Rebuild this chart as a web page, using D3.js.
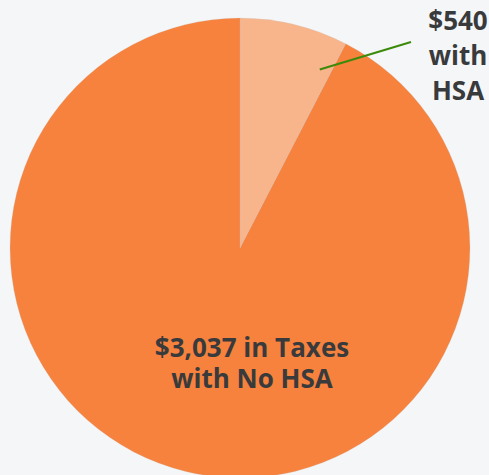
<!DOCTYPE html>
<html lang="en">
<head>
    <meta charset="UTF-8">
    <title>Taxes with and without HSA</title>
    <script src="https://d3js.org/d3.v7.min.js"></script>
    <style>
        body {
            margin: 0;
            background-color: #f4f6f8;
            font-family: 'Open Sans', sans-serif;
        }
        .label {
            font-size: 26px;
            font-weight: bold;
            fill: #393a3c;
        }
    </style>
</head>
<body>
    <svg id="chart"></svg>

    <script>
        // slices (share of the full circle, in %)
        const categories = ["with HSA", "with No HSA"];
        const shares = [7.6, 92.4];
        const labels = [["$540", "with", "HSA"], ["$3,037 in Taxes", "with No HSA"]];
        const colors = ["#f8b48b", "#f6823e"];

        const width = 489, height = 475;
        const cx = 240, cy = 248, radius = 230;

        const svg = d3.select("#chart")
            .attr("width", width)
            .attr("height", height);

        const g = svg.append("g")
            .attr("transform", `translate(${cx},${cy})`);

        const pie = d3.pie().sort(null).value(d => d);
        const arc = d3.arc().innerRadius(0).outerRadius(radius);
        const arcs = pie(shares);

        g.selectAll("path")
            .data(arcs)
            .enter().append("path")
            .attr("d", arc)
            .attr("fill", (d, i) => colors[i])
            .attr("stroke", "#c9c9c9")
            .attr("stroke-opacity", 0.4)
            .attr("stroke-width", 0.6);

        // leader line for the small slice, starting inside it near its edge
        const a0 = arcs[0].endAngle * 0.88;
        const r0 = radius * 0.85;
        svg.append("line")
            .attr("x1", cx + r0 * Math.sin(a0))
            .attr("y1", cy - r0 * Math.cos(a0))
            .attr("x2", 411)
            .attr("y2", 42)
            .attr("stroke", "#3c8a0a")
            .attr("stroke-width", 2);

        // small slice label
        const small = svg.append("text")
            .attr("class", "label")
            .attr("text-anchor", "middle");
        small.selectAll("tspan")
            .data(labels[0])
            .enter().append("tspan")
            .attr("x", 458)
            .attr("y", (d, i) => 30 + i * 35)
            .text(d => d);

        // big slice label
        const big = svg.append("text")
            .attr("class", "label")
            .attr("text-anchor", "middle");
        big.selectAll("tspan")
            .data(labels[1])
            .enter().append("tspan")
            .attr("x", 252)
            .attr("y", (d, i) => 357 + i * 31)
            .text(d => d);
    </script>
</body>
</html>
